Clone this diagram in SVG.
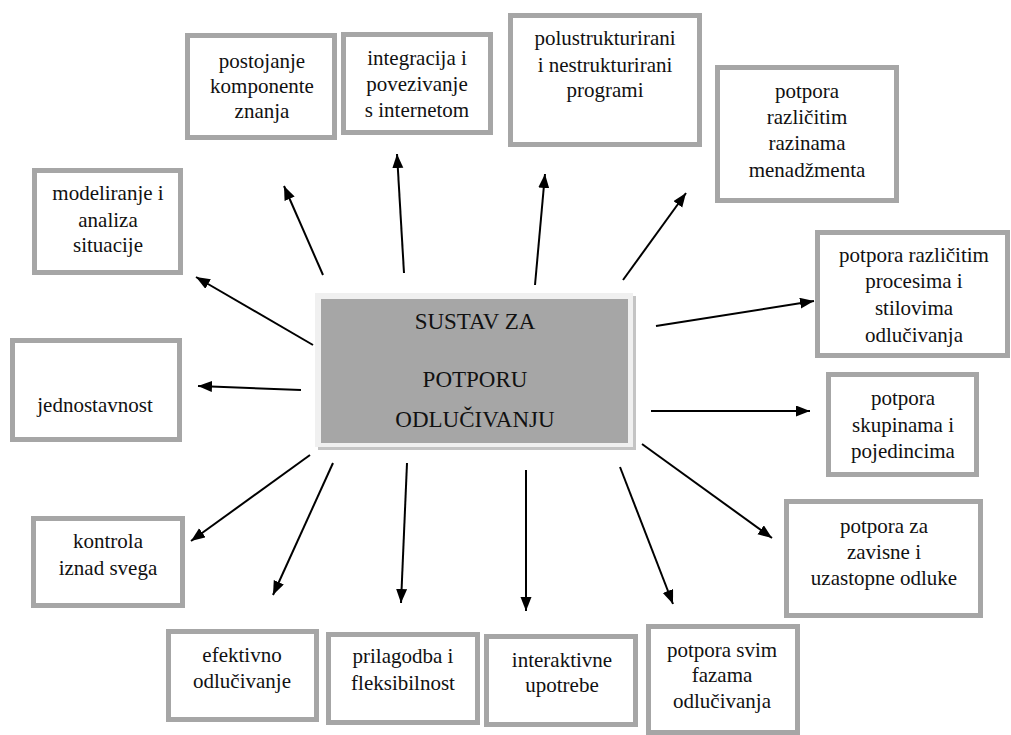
<svg xmlns="http://www.w3.org/2000/svg" width="1011" height="735" viewBox="0 0 1011 735">
<style>
.box{fill:#ffffff;stroke:#a6a6a6;stroke-width:5}
text{font-family:'Liberation Serif','DejaVu Serif',serif;fill:#111111;text-anchor:middle}
.t{font-size:21px}
.c{font-size:23px}
.arr{stroke:#000000;stroke-width:2;fill:none;marker-end:url(#ah)}
</style>
<defs>
<marker id="ah" markerUnits="userSpaceOnUse" markerWidth="15" markerHeight="12" refX="14" refY="5.5" orient="auto">
<path d="M0,0 L14,5.5 L0,11 z" fill="#000000"/>
</marker>
</defs>
<rect width="1011" height="735" fill="#ffffff"/>

<g id="center">
<rect x="318" y="296" width="318" height="154" fill="#c4c4c4"/>
<rect x="315" y="293" width="318" height="154" fill="#f0f0f0"/>
<rect x="321" y="299" width="307" height="144" fill="#a6a6a6"/>
<text class="c" x="475" y="329" font-family="Liberation Serif">SUSTAV ZA</text>
<text class="c" x="475" y="387" font-family="Liberation Serif">POTPORU</text>
<text class="c" x="475" y="427" font-family="Liberation Serif">ODLUČIVANJU</text>
</g>

<g id="n1">
<rect class="box" x="187.5" y="35.5" width="147" height="102"/>
<text class="t" x="262" y="68">postojanje</text>
<text class="t" x="262" y="93">komponente</text>
<text class="t" x="262" y="118">znanja</text>
</g>
<g id="n2">
<rect class="box" x="343.5" y="34.5" width="147" height="98"/>
<text class="t" x="417" y="65">integracija i</text>
<text class="t" x="417" y="91">povezivanje</text>
<text class="t" x="417" y="117">s internetom</text>
</g>
<g id="n3">
<rect class="box" x="510.5" y="15.5" width="189" height="129"/>
<text class="t" x="605" y="45">polustrukturirani</text>
<text class="t" x="605" y="72">i nestrukturirani</text>
<text class="t" x="605" y="97">programi</text>
</g>
<g id="n4">
<rect class="box" x="717.5" y="67.5" width="179" height="133"/>
<text class="t" x="807" y="98">potpora</text>
<text class="t" x="807" y="124">različitim</text>
<text class="t" x="807" y="150">razinama</text>
<text class="t" x="807" y="177">menadžmenta</text>
</g>
<g id="n5">
<rect class="box" x="34.5" y="170.5" width="146" height="102"/>
<text class="t" x="108" y="200">modeliranje i</text>
<text class="t" x="108" y="227">analiza</text>
<text class="t" x="108" y="252">situacije</text>
</g>
<g id="n6">
<rect class="box" x="12.5" y="340.5" width="167" height="99"/>
<text class="t" x="95" y="412">jednostavnost</text>
</g>
<g id="n7">
<rect class="box" x="817.5" y="232.5" width="190" height="123"/>
<text class="t" x="914" y="262">potpora različitim</text>
<text class="t" x="914" y="288">procesima i</text>
<text class="t" x="914" y="315">stilovima</text>
<text class="t" x="914" y="342">odlučivanja</text>
</g>
<g id="n8">
<rect class="box" x="828.5" y="374.5" width="148" height="100"/>
<text class="t" x="903" y="405">potpora</text>
<text class="t" x="903" y="432">skupinama i</text>
<text class="t" x="903" y="458">pojedincima</text>
</g>
<g id="n9">
<rect class="box" x="786.5" y="501.5" width="194" height="114"/>
<text class="t" x="884" y="533">potpora za</text>
<text class="t" x="884" y="559">zavisne i</text>
<text class="t" x="884" y="585">uzastopne odluke</text>
</g>
<g id="n10">
<rect class="box" x="33.5" y="518.5" width="149" height="87"/>
<text class="t" x="108" y="548">kontrola</text>
<text class="t" x="108" y="575">iznad svega</text>
</g>
<g id="n11">
<rect class="box" x="168.5" y="631.5" width="148" height="88"/>
<text class="t" x="242" y="662">efektivno</text>
<text class="t" x="242" y="688">odlučivanje</text>
</g>
<g id="n12">
<rect class="box" x="328.5" y="634.5" width="149" height="88"/>
<text class="t" x="403" y="663">prilagodba i</text>
<text class="t" x="403" y="690">fleksibilnost</text>
</g>
<g id="n13">
<rect class="box" x="486.5" y="636.5" width="149" height="88"/>
<text class="t" x="562" y="667">interaktivne</text>
<text class="t" x="562" y="692">upotrebe</text>
</g>
<g id="n14">
<rect class="box" x="648.5" y="626.5" width="149" height="106"/>
<text class="t" x="722" y="657">potpora svim</text>
<text class="t" x="722" y="682">fazama</text>
<text class="t" x="722" y="708">odlučivanja</text>
</g>

<g id="connectors">
<line class="arr" x1="323" y1="275" x2="284" y2="186"/>
<line class="arr" x1="404" y1="273" x2="397" y2="154"/>
<line class="arr" x1="535" y1="285" x2="545" y2="174"/>
<line class="arr" x1="623" y1="280" x2="686" y2="193"/>
<line class="arr" x1="313" y1="345" x2="196" y2="277"/>
<line class="arr" x1="301" y1="390" x2="198" y2="386"/>
<line class="arr" x1="656" y1="326" x2="814" y2="301"/>
<line class="arr" x1="651" y1="411" x2="810" y2="411"/>
<line class="arr" x1="642" y1="444" x2="772" y2="538"/>
<line class="arr" x1="620" y1="467" x2="673" y2="604"/>
<line class="arr" x1="526" y1="470" x2="526" y2="611"/>
<line class="arr" x1="407" y1="463" x2="401" y2="603"/>
<line class="arr" x1="333" y1="463" x2="273" y2="595"/>
<line class="arr" x1="310" y1="455" x2="191" y2="541"/>
</g>
</svg>
